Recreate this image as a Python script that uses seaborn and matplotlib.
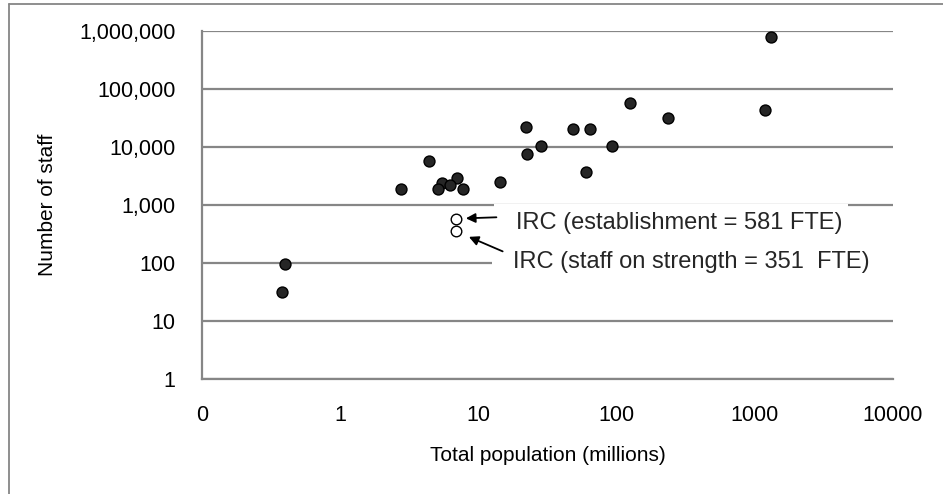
import matplotlib
matplotlib.use("Agg")
import matplotlib.pyplot as plt
import matplotlib.ticker as mticker
from matplotlib.patches import Rectangle
from matplotlib.lines import Line2D
import seaborn as sns
import pandas as pd

# ---- data ----
population_millions = [1300, 1180, 125, 235, 22, 48.4, 63.7, 28.2, 92, 22.6, 59.7,
                       4.37, 14.3, 6.98, 5.43, 6.2, 2.74, 5.14, 7.69, 0.40, 0.38]
number_of_staff = [780000, 42700, 57000, 31800, 22000, 20300, 20300, 10400, 10400, 7640, 3700,
                   5720, 2510, 2950, 2420, 2210, 1860, 1860, 1860, 96, 32]
irc_population = [6.9, 6.9]
irc_staff = [581, 351]
irc_labels = ["IRC (establishment = 581 FTE)", "IRC (staff on strength = 351  FTE)"]

x_ticks = [0.1, 1, 10, 100, 1000, 10000]
x_tick_labels = ["0", "1", "10", "100", "1000", "10000"]
y_ticks = [1, 10, 100, 1000, 10000, 100000, 1000000]
y_tick_labels = ["1", "10", "100", "1,000", "10,000", "100,000", "1,000,000"]

sns.set_theme(style="white")
plt.rcParams["font.family"] = ["Liberation Sans", "DejaVu Sans"]

GRID = "#868686"
W, H = 943, 494
fig = plt.figure(figsize=(W / 100, H / 100), dpi=100)
ax = fig.add_axes([202 / W, 1 - 379 / H, (893 - 202) / W, (379 - 31) / H])

df = pd.DataFrame({"pop": population_millions, "staff": number_of_staff})
df_irc = pd.DataFrame({"pop": irc_population, "staff": irc_staff})

sns.scatterplot(data=df, x="pop", y="staff", ax=ax, s=62, color="#262626",
                edgecolor="black", linewidth=1.0, zorder=5, legend=False)
sns.scatterplot(data=df_irc, x="pop", y="staff", ax=ax, s=58, color="white",
                edgecolor="black", linewidth=1.0, zorder=5, legend=False)

ax.set_xscale("log")
ax.set_yscale("log")
ax.set_xlim(0.1, 10000)
ax.set_ylim(1, 1000000)
ax.set_xticks(x_ticks, x_tick_labels)
ax.set_yticks(y_ticks, y_tick_labels)
ax.xaxis.set_minor_locator(mticker.NullLocator())
ax.yaxis.set_minor_locator(mticker.NullLocator())

ax.yaxis.grid(True, color=GRID, linewidth=1.6, zorder=0)
ax.xaxis.grid(False)
ax.set_axisbelow(True)
for side in ["top", "right"]:
    ax.spines[side].set_visible(False)
for side in ["left", "bottom"]:
    ax.spines[side].set_color(GRID)
    ax.spines[side].set_linewidth(1.6)

ax.tick_params(axis="both", which="major", direction="out", length=5, width=1.2,
               color=GRID, labelsize=15.5, labelcolor="black")
ax.tick_params(axis="x", pad=14)
ax.tick_params(axis="y", pad=14)
ax.set_xlabel("Total population (millions)", fontsize=15, color="black", labelpad=14)
ax.set_ylabel("Number of staff", fontsize=15, color="black", labelpad=16)

# white boxes behind the annotation texts (they hide the gridlines)
ax.add_patch(Rectangle(((494 - 202) / 691, (379 - 238) / 348), (848 - 494) / 691, 34 / 348,
                       transform=ax.transAxes, facecolor="white", edgecolor="none", zorder=2))
ax.add_patch(Rectangle(((492 - 202) / 691, (379 - 280) / 348), (900 - 492) / 691, 36 / 348,
                       transform=ax.transAxes, facecolor="white", edgecolor="none", zorder=2,
                       clip_on=False))

ax.text((516 - 202) / 691, (379 - 223) / 348, irc_labels[0], transform=ax.transAxes,
        fontsize=17, va="center", ha="left", zorder=6)
ax.text((513 - 202) / 691, (379 - 262) / 348, irc_labels[1], transform=ax.transAxes,
        fontsize=17, va="center", ha="left", zorder=6)

arrow_props = dict(arrowstyle="-|>", color="black", lw=1.3, mutation_scale=14, shrinkA=0)
ax.annotate("", xy=(irc_population[0], irc_staff[0]), xytext=(29, 1),
            textcoords="offset points",
            arrowprops=dict(arrow_props, shrinkB=7), zorder=6)
ax.annotate("", xy=(irc_population[1], irc_staff[1]), xytext=(33.5, -14.4),
            textcoords="offset points",
            arrowprops=dict(arrow_props, shrinkB=10), zorder=6)

# outer chart border (left and top visible)
fig.add_artist(Line2D([9 / W, 9 / W], [0, 1 - 4 / H], color=GRID, lw=1.3))
fig.add_artist(Line2D([9 / W, 1], [1 - 4 / H, 1 - 4 / H], color=GRID, lw=1.3))

fig.savefig("out.png", dpi=100, facecolor="white")
